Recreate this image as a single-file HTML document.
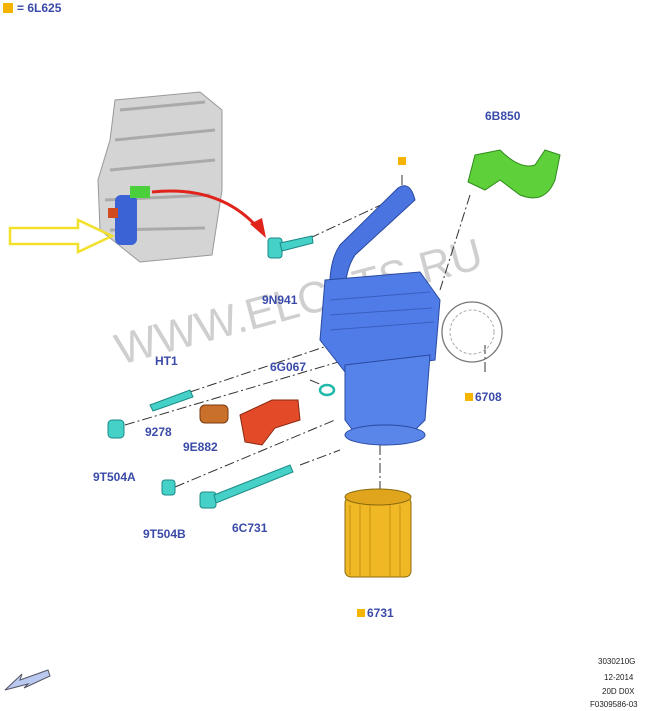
<!DOCTYPE html>
<html><head><meta charset="utf-8"><style>
body{margin:0;background:#fff;width:650px;height:711px;overflow:hidden;font-family:"Liberation Sans",sans-serif}
svg{display:block}
.l{fill:#3a4aa8;font-weight:bold;font-size:12px;font-family:"Liberation Sans",sans-serif}
.s{fill:#222;font-size:8px;font-family:"Liberation Sans",sans-serif}
.d{stroke:#333;stroke-width:1;fill:none;stroke-dasharray:10,3,2,3}
</style></head><body>
<svg width="650" height="711" viewBox="0 0 650 711">
<rect x="3" y="3" width="10" height="10" fill="#f5b400"/>
<text x="17" y="12" class="l" font-size="13">= 6L625</text>
<!-- engine -->
<path d="M115 100 L200 92 L222 110 L222 190 L212 255 L140 262 L100 230 L98 180 L110 140Z" fill="#d4d4d4" stroke="#999"/>
<path d="M120 110 L205 102 M115 140 L215 130 M110 170 L215 160 M105 200 L210 195 M110 230 L205 228" stroke="#aaa" stroke-width="3" fill="none"/>
<rect x="115" y="195" width="22" height="50" rx="6" fill="#3b63d6"/>
<rect x="130" y="186" width="20" height="12" fill="#4ccf3c"/>
<rect x="108" y="208" width="10" height="10" fill="#d24a20"/>
<!-- yellow arrow -->
<path d="M10 228 L78 228 L78 220 L112 236 L78 252 L78 244 L10 244Z" fill="none" stroke="#f2e02a" stroke-width="2.5"/>
<!-- red arrow -->
<path d="M152 192 Q220 185 258 228" stroke="#e0231b" stroke-width="3" fill="none"/>
<path d="M250 224 L266 238 L262 218Z" fill="#e0231b"/>
<!-- watermark -->
<text x="120" y="365" transform="rotate(-15 120 365)" font-size="44" fill="#bfbfbf" opacity="0.75" font-family="Liberation Sans,sans-serif">WWW.ELCATS.RU</text>
<!-- dash lines -->
<path class="d" d="M402 175 L402 195"/>
<path class="d" d="M310 238 L400 196"/>
<path class="d" d="M470 195 L440 290"/>
<path class="d" d="M190 392 L345 340"/>
<path class="d" d="M125 425 L345 360"/>
<path class="d" d="M175 487 L335 420"/>
<path class="d" d="M300 465 L340 450"/>
<path class="d" d="M380 445 L380 490"/>
<path class="d" d="M485 372 L485 345"/>
<path class="d" d="M310 380 L322 385"/>
<!-- cooler -->
<path d="M398 188 Q410 180 415 200 L355 255 Q345 270 345 295 L330 298 Q328 262 340 245Z" fill="#4a74e0" stroke="#2a4aa0"/>
<path d="M325 280 L420 272 L440 300 L435 360 L345 372 L320 340Z" fill="#4f7ce6" stroke="#2a4aa0"/>
<path d="M330 300 L430 292 M330 315 L432 308 M330 330 L434 322" stroke="#3a5fc0" fill="none"/>
<path d="M345 365 L430 355 L425 420 L410 435 L360 440 L345 420Z" fill="#5683ea" stroke="#2a4aa0"/>
<ellipse cx="385" cy="435" rx="40" ry="10" fill="#5a86ea" stroke="#2a4aa0"/>
<!-- gasket -->
<circle cx="472" cy="332" r="30" fill="none" stroke="#777" stroke-width="1.3"/>
<circle cx="472" cy="332" r="22" fill="none" stroke="#aaa" stroke-dasharray="3,2"/>
<!-- green hose -->
<path d="M475 155 L500 150 Q520 170 535 165 L545 150 L560 155 L555 180 Q545 205 520 195 L500 180 L485 190 L468 182Z" fill="#5ed13a" stroke="#2f8a1c"/>
<!-- o-ring -->
<ellipse cx="327" cy="390" rx="7" ry="5" fill="none" stroke="#20b8a8" stroke-width="2.5"/>
<!-- bolts -->
<g fill="#45d0c8" stroke="#1b8a86">
<rect x="268" y="238" width="14" height="20" rx="3"/><path d="M280 243 L312 236 L313 243 L282 251Z"/>
<path d="M150 405 L190 390 L193 397 L153 411Z"/>
<rect x="108" y="420" width="16" height="18" rx="4"/>
<rect x="162" y="480" width="13" height="15" rx="3"/>
<rect x="200" y="492" width="16" height="16" rx="3"/><path d="M214 495 L290 465 L293 472 L216 503Z"/>
</g>
<rect x="200" y="405" width="28" height="18" rx="5" fill="#c9702a" stroke="#7a3a10"/>
<path d="M240 415 L272 400 L298 400 L300 420 L275 428 L262 445 L245 442Z" fill="#e34b28" stroke="#8a2a10"/>
<!-- filter -->
<rect x="345" y="497" width="66" height="80" rx="6" fill="#f0b824" stroke="#8a6a10"/>
<ellipse cx="378" cy="497" rx="33" ry="8" fill="#e0a51c" stroke="#8a6a10"/>
<path d="M350 505 L350 575 M360 505 L360 577 M370 505 L370 577 M390 505 L390 577 M400 505 L400 577" stroke="#c89010" fill="none"/>
<!-- labels -->
<text x="485" y="120" class="l">6B850</text>
<rect x="398" y="157" width="8" height="8" fill="#f5b400"/>
<text x="262" y="304" class="l">9N941</text>
<text x="155" y="365" class="l">HT1</text>
<text x="270" y="371" class="l">6G067</text>
<text x="145" y="436" class="l">9278</text>
<text x="183" y="451" class="l">9E882</text>
<text x="93" y="481" class="l">9T504A</text>
<text x="232" y="532" class="l">6C731</text>
<text x="143" y="538" class="l">9T504B</text>
<rect x="465" y="393" width="8" height="8" fill="#f5b400"/>
<text x="475" y="401" class="l">6708</text>
<rect x="357" y="609" width="8" height="8" fill="#f5b400"/>
<text x="367" y="617" class="l">6731</text>
<!-- bottom arrow -->
<path d="M48 670 L20 680 L22 674 L5 690 L28 684 L24 688 L50 676Z" fill="#b9c9f0" stroke="#556"/>
<text x="598" y="664" class="s">3030210G</text>
<text x="604" y="680" class="s">12-2014</text>
<text x="602" y="694" class="s">20D D0X</text>
<text x="590" y="707" class="s">F0309586-03</text>
</svg>
</body></html>
